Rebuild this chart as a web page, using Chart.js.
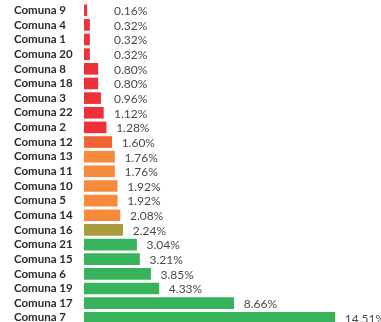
<!DOCTYPE html>
<html>
<head>
<meta charset="utf-8">
<script src="https://cdn.jsdelivr.net/npm/chart.js@4/dist/chart.umd.min.js"></script>
<style>
  html, body { margin: 0; padding: 0; background: #fff; overflow: hidden; }
  #wrap { width: 381px; height: 322px; overflow: hidden; }
  #comunaChart { position: relative; top: -7px; }
</style>
</head>
<body>
<div id="wrap"><canvas id="comunaChart" width="381" height="342"></canvas></div>
<script>
const comunas = [
  "Comuna 9", "Comuna 4", "Comuna 1", "Comuna 20", "Comuna 8", "Comuna 18",
  "Comuna 3", "Comuna 22", "Comuna 2", "Comuna 12", "Comuna 13", "Comuna 11",
  "Comuna 10", "Comuna 5", "Comuna 14", "Comuna 16", "Comuna 21", "Comuna 15",
  "Comuna 6", "Comuna 19", "Comuna 17", "Comuna 7"
];
const porcentajes = [
  0.16, 0.32, 0.32, 0.32, 0.80, 0.80,
  0.96, 1.12, 1.28, 1.60, 1.76, 1.76,
  1.92, 1.92, 2.08, 2.24, 3.04, 3.21,
  3.85, 4.33, 8.66, 14.51
];

const rojo = "#ee3138";
const naranja = "#f6893a";
const verde = "#37b45b";
const barColors = [
  rojo, rojo, rojo, rojo, rojo, rojo,
  rojo, rojo, rojo, "#f26532", naranja, naranja,
  naranja, naranja, naranja, "#a99b3e", verde, verde,
  verde, verde, verde, verde
];

// porcentaje escrito a la derecha de cada barra
const valueLabels = {
  id: "valueLabels",
  afterDatasetsDraw(chart) {
    const ctx = chart.ctx;
    const meta = chart.getDatasetMeta(0);
    ctx.save();
    ctx.font = "12px Lato, 'DejaVu Sans', sans-serif";
    ctx.fillStyle = "#4a4a4a";
    ctx.textAlign = "left";
    ctx.textBaseline = "middle";
    meta.data.forEach((bar, i) => {
      const x = Math.max(bar.x + 10, 114);
      ctx.fillText(porcentajes[i].toFixed(2) + "%", x, bar.y + 1);
    });
    ctx.restore();
  }
};

new Chart(document.getElementById("comunaChart"), {
  type: "bar",
  data: {
    labels: comunas,
    datasets: [{
      data: porcentajes,
      backgroundColor: barColors,
      barThickness: 11,
      borderWidth: 0
    }]
  },
  options: {
    indexAxis: "y",
    responsive: false,
    animation: false,
    layout: { padding: { left: 14, right: 10, top: 0, bottom: 0 } },
    plugins: {
      legend: { display: false },
      tooltip: { enabled: false }
    },
    scales: {
      x: {
        min: 0,
        max: 16.6,
        display: false,
        grid: { display: false }
      },
      y: {
        grid: { display: false },
        border: { display: false },
        afterFit(scale) { scale.width = 70; },
        ticks: {
          crossAlign: "far",
          color: "#2b2b2b",
          font: { family: "Lato, 'DejaVu Sans', sans-serif", size: 11.5, weight: "bold" },
          autoSkip: false
        }
      }
    }
  },
  plugins: [valueLabels]
});
</script>
</body>
</html>
